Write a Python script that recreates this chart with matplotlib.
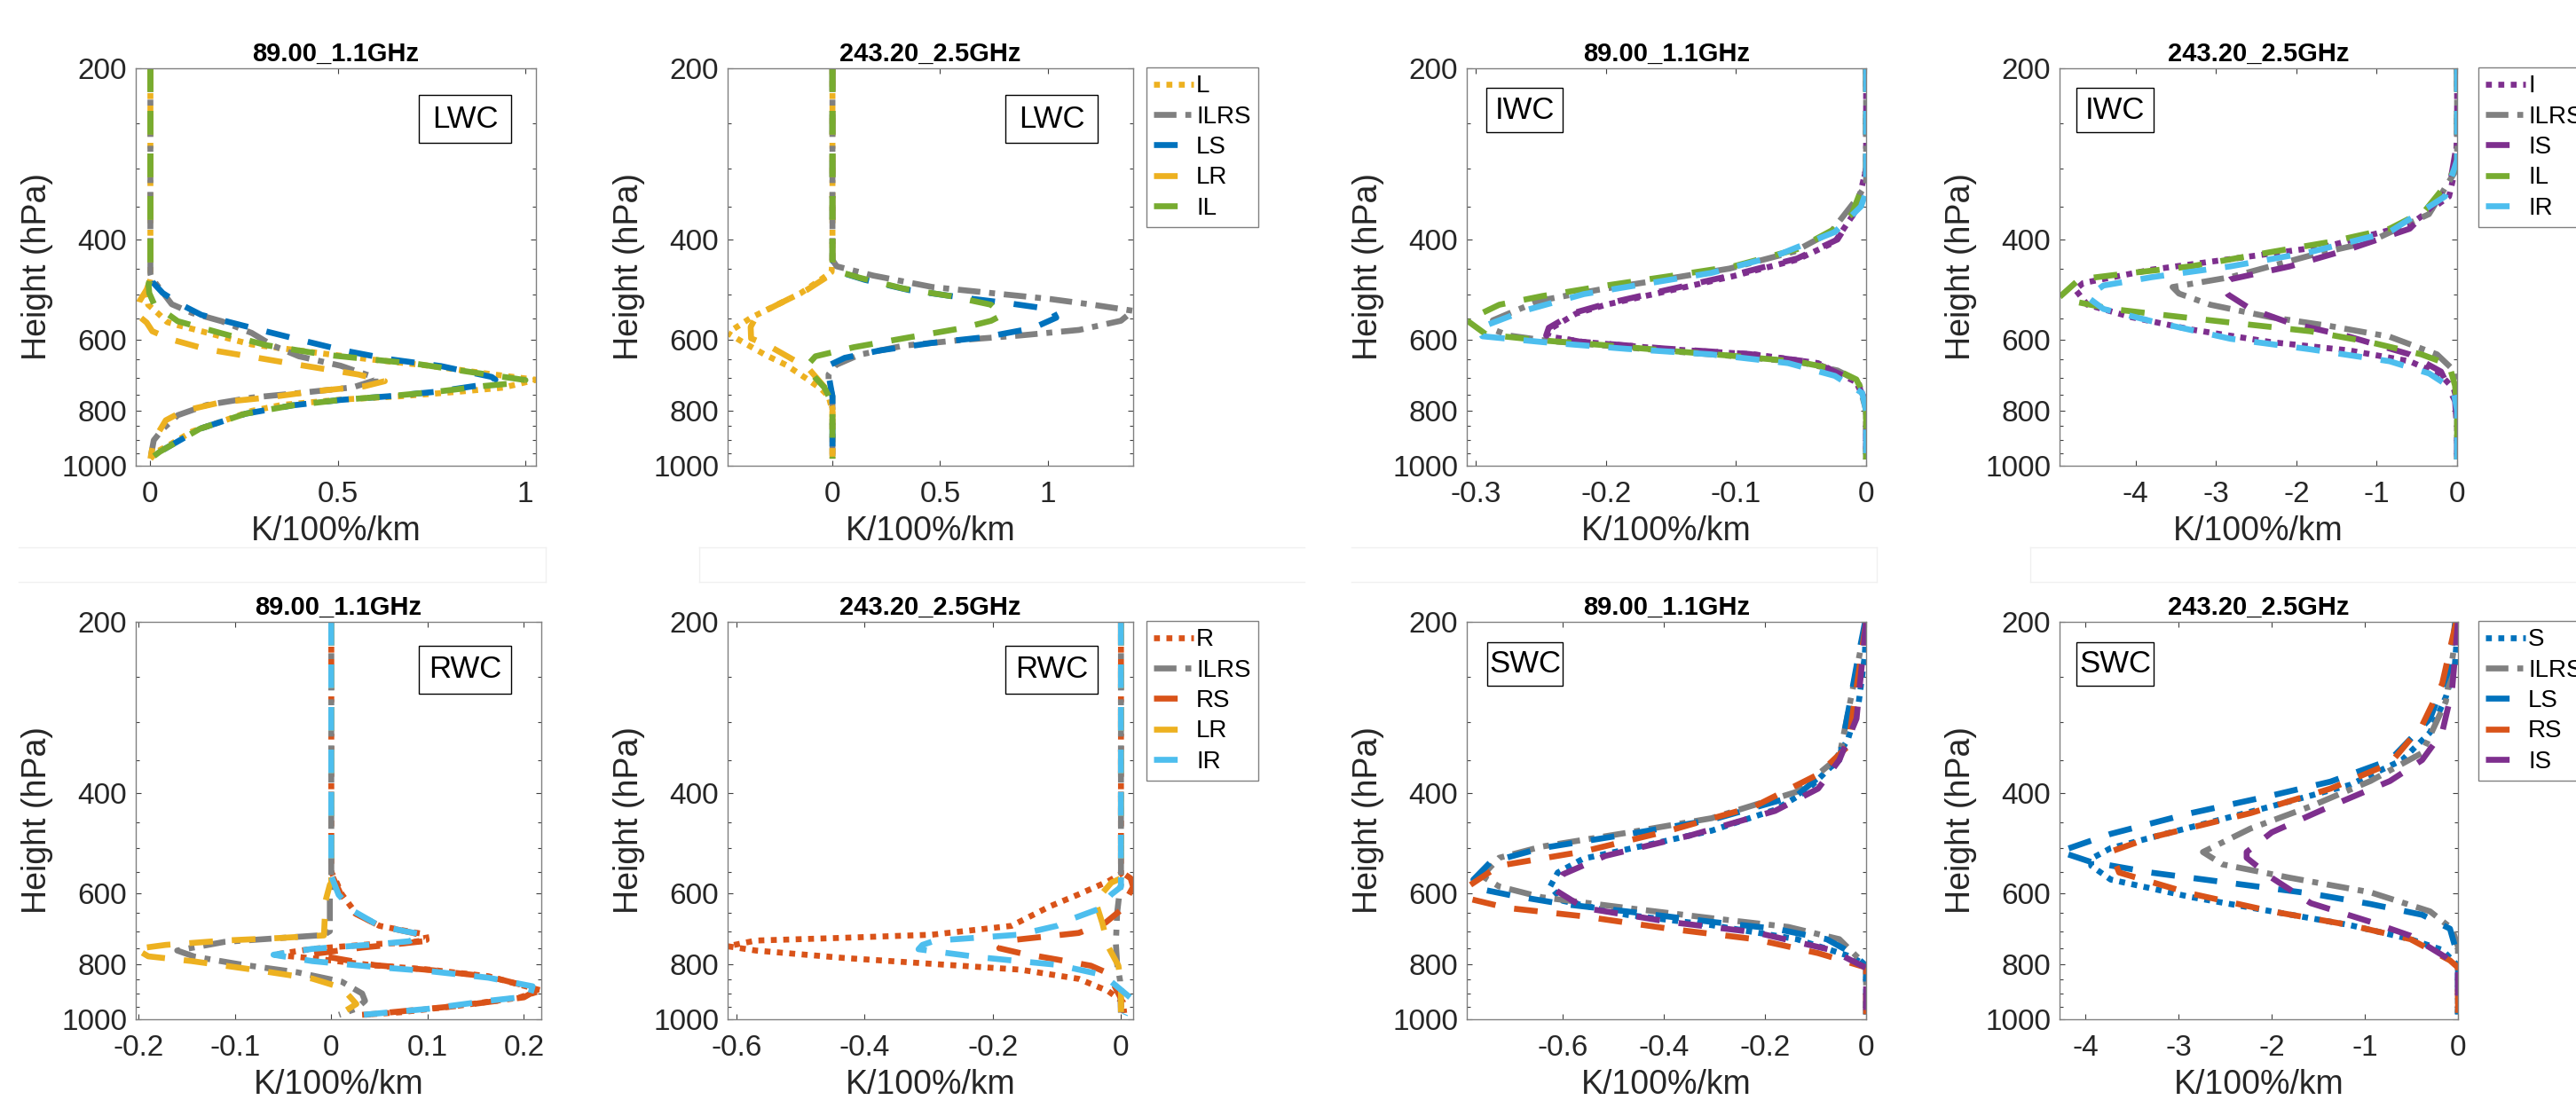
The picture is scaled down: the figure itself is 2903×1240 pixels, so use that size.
import matplotlib
matplotlib.use("Agg")
import matplotlib.pyplot as plt
from matplotlib.patches import Rectangle
from matplotlib.lines import Line2D
from matplotlib.ticker import FixedLocator, NullFormatter

plt.rcParams['font.family'] = ['Liberation Sans', 'DejaVu Sans']

# Jacobian profiles, each point is (pressure [hPa], sensitivity [K/100%/km])

# LWC, 89.00 GHz
lwc89_L = [(200, 0), (470, 0), (500, -0.01), (521, -0.006), (540, 0.021), (559, 0.045), (566, 0.073),
           (580, 0.136), (597, 0.207), (612, 0.27), (631, 0.428), (650, 0.586), (667, 0.743), (689, 0.9),
           (706, 1.028), (729, 0.94), (741, 0.822), (755, 0.665), (765, 0.507), (782, 0.349), (801, 0.27),
           (836, 0.19), (870, 0.112), (914, 0.057), (945, 0.017), (972, 0)]
lwc89_ILRS = [(200, 0), (460, 0), (467, 0.003), (520, 0.057), (539, 0.112), (557, 0.19), (584, 0.27),
              (614, 0.325), (642, 0.396), (667, 0.507), (700, 0.6), (707, 0.6), (728, 0.54), (745, 0.396),
              (759, 0.27), (782, 0.15), (815, 0.073), (862, 0.033), (902, 0.009), (972, 0)]
lwc89_LS = [(200, 0), (460, 0), (474, 0.004), (497, 0.033), (520, 0.08), (543, 0.136), (572, 0.27),
            (600, 0.396), (627, 0.515), (650, 0.64), (668, 0.775), (698, 0.91), (706, 0.92), (720, 0.89),
            (741, 0.763), (755, 0.633), (766, 0.507), (783, 0.38), (810, 0.254), (861, 0.132),
            (945, 0.025), (972, 0)]
lwc89_LR = [(200, 0), (470, 0), (490, -0.01), (515, -0.03), (540, -0.039), (560, -0.01), (580, 0.005),
            (600, 0.057), (624, 0.15), (646, 0.286), (667, 0.41), (691, 0.554), (710, 0.625), (725, 0.57),
            (741, 0.428), (759, 0.31), (773, 0.19), (801, 0.088), (832, 0.041), (902, 0.009), (972, 0)]
lwc89_IL = [(200, 0), (465, 0), (480, -0.005), (497, -0.003), (520, 0.01), (557, 0.073), (585, 0.19),
            (614, 0.31), (638, 0.467), (650, 0.586), (662, 0.71), (683, 0.846), (707, 1.0), (718, 0.95),
            (724, 0.89), (741, 0.763), (755, 0.633), (766, 0.507), (783, 0.38), (810, 0.254), (861, 0.132),
            (945, 0.025), (972, 0)]

# LWC, 243.20 GHz
lwc243_L = [(200, 0), (431, 0), (456, -0.004), (470, -0.052), (497, -0.147), (524, -0.27), (549, -0.378),
            (584, -0.487), (605, -0.42), (639, -0.31), (665, -0.215), (703, -0.12), (733, -0.052),
            (755, -0.018), (801, 0), (972, 0)]
lwc243_ILRS = [(200, 0), (435, 0), (446, 0.02), (463, 0.19), (485, 0.465), (497, 0.74), (509, 1.01),
               (521, 1.21), (534, 1.397), (556, 1.34), (577, 1.146), (590, 0.873), (601, 0.6), (615, 0.33),
               (638, 0.125), (665, 0.016), (691, -0.018), (710, -0.018), (755, 0), (972, 0)]
lwc243_LS = [(200, 0), (435, 0), (456, 0.03), (471, 0.15), (491, 0.356), (506, 0.6), (518, 0.82),
             (531, 1.02), (549, 1.04), (573, 0.93), (594, 0.71), (608, 0.465), (627, 0.22), (646, 0.057),
             (668, -0.024), (691, -0.018), (720, -0.01), (755, 0), (972, 0)]
lwc243_LR = [(200, 0), (440, 0), (459, 0), (491, -0.12), (521, -0.256), (543, -0.35), (570, -0.38),
             (597, -0.378), (615, -0.297), (658, -0.16), (678, -0.106), (737, -0.024), (792, 0), (972, 0)]
lwc243_IL = [(200, 0), (440, 0), (454, 0.016), (467, 0.125), (488, 0.33), (503, 0.547), (521, 0.737),
             (543, 0.79), (556, 0.737), (573, 0.6), (597, 0.33), (619, 0.098), (642, -0.079), (668, -0.12),
             (700, -0.08), (728, -0.038), (763, -0.011), (801, 0), (972, 0)]

# IWC, 89.00 GHz
iwc89_I = [(200, 0), (300, 0), (355, -0.0075), (404, -0.024), (434, -0.053), (464, -0.102), (492, -0.151),
           (521, -0.2), (540, -0.223), (575, -0.243), (592, -0.245), (606, -0.217), (624, -0.151),
           (637, -0.086), (660, -0.037), (713, -0.0075), (775, 0), (975, 0)]
iwc89_ILRS = [(200, 0), (320, 0), (340, -0.0075), (388, -0.027), (420, -0.055), (450, -0.105),
              (470, -0.155), (490, -0.205), (512, -0.25), (533, -0.269), (555, -0.287), (578, -0.285),
              (590, -0.275), (603, -0.245), (615, -0.2), (629, -0.15), (642, -0.1), (658, -0.05),
              (680, -0.022), (710, -0.006), (800, 0), (975, 0)]
iwc89_IS = [(200, 0), (300, 0), (350, -0.006), (400, -0.022), (432, -0.053), (463, -0.104), (490, -0.152),
            (519, -0.2), (538, -0.224), (572, -0.244), (590, -0.246), (605, -0.22), (622, -0.155),
            (636, -0.09), (658, -0.04), (710, -0.008), (770, 0), (975, 0)]
iwc89_IL = [(200, 0), (310, 0), (322, -0.0026), (361, -0.011), (383, -0.024), (416, -0.053), (446, -0.102),
            (464, -0.151), (482, -0.2), (503, -0.249), (521, -0.282), (555, -0.307), (588, -0.292),
            (602, -0.249), (614, -0.2), (628, -0.151), (641, -0.102), (656, -0.053), (676, -0.024),
            (705, -0.0075), (755, -0.001), (809, 0), (975, 0)]
iwc89_IR = [(200, 0), (330, 0), (350, -0.004), (388, -0.024), (428, -0.07), (458, -0.119), (478, -0.168),
            (499, -0.217), (533, -0.262), (573, -0.298), (592, -0.295), (606, -0.249), (623, -0.184),
            (637, -0.119), (660, -0.06), (695, -0.024), (745, -0.003), (800, 0), (975, 0)]

# IWC, 243.20 GHz
iwc243_I = [(200, 0), (260, 0), (300, -0.02), (336, -0.1), (377, -0.59), (410, -1.58), (433, -2.82),
            (452, -3.8), (477, -4.65), (490, -4.75), (521, -4.6), (548, -4.05), (576, -3.31), (606, -2.32),
            (627, -1.34), (655, -0.59), (693, -0.2), (733, -0.04), (770, 0), (975, 0)]
iwc243_ILRS = [(200, 0), (280, 0), (304, -0.025), (361, -0.35), (404, -1.09), (427, -1.83), (466, -2.82),
               (485, -3.54), (498, -3.46), (521, -3.07), (548, -2.32), (568, -1.58), (593, -0.84),
               (637, -0.25), (683, -0.025), (743, 0), (975, 0)]
iwc243_IS = [(200, 0), (270, 0), (326, -0.1), (383, -0.59), (416, -1.34), (446, -2.08), (470, -2.82),
             (482, -2.92), (500, -2.85), (530, -2.57), (561, -2.08), (593, -1.34), (637, -0.59),
             (683, -0.2), (770, -0.025), (870, 0), (975, 0)]
iwc243_IL = [(200, 0), (290, 0), (300, -0.025), (322, -0.15), (356, -0.4), (383, -0.84), (404, -1.58),
             (421, -2.32), (446, -3.31), (458, -4.05), (470, -4.7), (505, -4.946), (513, -4.8), (530, -4.3),
             (545, -3.56), (560, -2.82), (580, -1.83), (606, -1.09), (637, -0.445), (664, -0.1),
             (723, -0.025), (800, 0), (975, 0)]
iwc243_IR = [(200, 0), (290, 0), (336, -0.15), (388, -0.84), (421, -1.83), (446, -2.82), (466, -3.8),
             (482, -4.4), (505, -4.6), (530, -4.4), (557, -3.8), (598, -2.82), (624, -1.83), (655, -0.84),
             (688, -0.35), (733, -0.05), (800, 0), (975, 0)]

# RWC, 89.00 GHz
rwc89_R = [(200, 0), (551, 0), (570, 0.0046), (603, 0.011), (652, 0.026), (685, 0.05), (701, 0.081),
           (709, 0.098), (725, 0.099), (733, 0.081), (738, 0.041), (752, -0.02), (770, -0.06), (781, -0.02),
           (803, 0.041), (818, 0.102), (840, 0.163), (890, 0.218), (917, 0.194), (946, 0.133),
           (972, 0.072), (982, 0.032)]
rwc89_ILRS = [(200, 0), (580, 0), (613, -0.0015), (700, -0.0015), (711, -0.008), (719, -0.05),
              (731, -0.111), (757, -0.16), (776, -0.142), (800, -0.096), (827, -0.035), (859, 0.011),
              (901, 0.032), (928, 0.035), (958, 0.026), (982, 0.008)]
rwc89_RS = [(200, 0), (555, 0), (603, 0.01), (652, 0.025), (685, 0.05), (705, 0.085), (718, 0.1),
            (728, 0.099), (740, 0.06), (748, 0.032), (768, -0.02), (783, 0.008), (803, 0.045), (820, 0.105),
            (842, 0.165), (885, 0.215), (915, 0.2), (946, 0.135), (982, 0.035)]
rwc89_LR = [(200, 0), (575, 0), (580, -0.0015), (619, -0.006), (712, -0.0076), (719, -0.05),
            (727, -0.111), (740, -0.172), (752, -0.203), (775, -0.19), (790, -0.145), (818, -0.081),
            (848, -0.02), (880, 0.011), (940, 0.026), (982, 0.008)]
rwc89_IR = [(200, 0), (560, 0), (604, 0.0076), (645, 0.023), (685, 0.05), (701, 0.078), (709, 0.095),
            (729, 0.081), (738, 0.047), (752, -0.02), (770, -0.06), (790, -0.02), (808, 0.041),
            (823, 0.102), (845, 0.163), (875, 0.209), (911, 0.206), (928, 0.163), (958, 0.102), (983, 0.03)]

# RWC, 243.20 GHz
rwc243_R = [(200, 0), (555, 0), (572, -0.02), (603, -0.066), (633, -0.111), (685, -0.171), (710, -0.295),
            (719, -0.433), (727, -0.57), (744, -0.614), (757, -0.57), (780, -0.433), (799, -0.295),
            (818, -0.157), (849, -0.066), (892, -0.02), (932, 0.003), (975, 0.005)]
rwc243_ILRS = [(200, 0), (580, 0), (587, -0.0014), (650, -0.006), (735, -0.008), (800, -0.006),
               (855, -0.0014), (983, 0)]
rwc243_RS = [(200, 0), (550, 0), (565, 0.015), (585, 0.019), (645, -0.002), (676, -0.024), (705, -0.066),
             (727, -0.176), (750, -0.19), (765, -0.157), (785, -0.1), (805, -0.047), (830, -0.02),
             (920, 0), (975, 0)]
rwc243_LR = [(200, 0), (565, 0), (575, -0.015), (620, -0.04), (678, -0.029), (745, -0.02), (805, -0.004),
             (870, 0), (983, 0)]
rwc243_IR = [(200, 0), (585, 0), (603, -0.015), (640, -0.035), (665, -0.075), (685, -0.1), (710, -0.16),
             (722, -0.25), (727, -0.29), (740, -0.31), (753, -0.316), (765, -0.27), (778, -0.22),
             (790, -0.16), (802, -0.1), (830, -0.04), (850, -0.02), (921, 0.017), (983, 0.006)]

# SWC, 89.00 GHz
swc89_S = [(200, 0), (229, -0.0025), (279, -0.015), (322, -0.036), (360, -0.07), (398, -0.12), (428, -0.18),
           (466, -0.306), (493, -0.43), (522, -0.56), (552, -0.61), (584, -0.625), (619, -0.6),
           (655, -0.474), (683, -0.306), (723, -0.137), (777, -0.028), (805, 0), (980, 0)]
swc89_ILRS = [(200, 0), (345, -0.053), (398, -0.137), (443, -0.306), (470, -0.474), (497, -0.642),
              (520, -0.726), (560, -0.76), (584, -0.726), (610, -0.642), (637, -0.474), (664, -0.306),
              (688, -0.154), (723, -0.053), (805, 0), (980, 0)]
swc89_LS = [(200, -0.002), (229, -0.015), (350, -0.053), (404, -0.137), (446, -0.306), (473, -0.474),
            (500, -0.642), (529, -0.743), (568, -0.777), (589, -0.768), (606, -0.7), (627, -0.6),
            (646, -0.474), (674, -0.306), (693, -0.18), (723, -0.078), (765, -0.028), (805, 0), (980, 0)]
swc89_RS = [(200, 0), (331, -0.036), (371, -0.095), (422, -0.22), (466, -0.39), (507, -0.56), (537, -0.726),
            (582, -0.785), (600, -0.79), (614, -0.785), (637, -0.71), (659, -0.56), (693, -0.39),
            (723, -0.22), (765, -0.095), (811, 0), (980, 0)]
swc89_IS = [(200, 0), (296, -0.019), (350, -0.053), (393, -0.095), (430, -0.18), (475, -0.348),
            (516, -0.516), (556, -0.6), (591, -0.617), (637, -0.558), (674, -0.39), (703, -0.22),
            (755, -0.07), (812, 0), (980, 0)]

# SWC, 243.20 GHz
swc243_S = [(200, 0), (239, -0.034), (271, -0.13), (313, -0.3), (350, -0.6), (387, -1.16), (422, -2.0),
            (459, -2.86), (500, -3.73), (522, -3.94), (537, -3.94), (568, -3.73), (610, -2.86), (646, -2.0),
            (683, -1.16), (723, -0.51), (755, -0.17), (805, 0), (980, 0)]
swc243_ILRS = [(200, 0), (276, -0.13), (340, -0.385), (381, -0.94), (422, -1.58), (462, -2.23),
               (508, -2.74), (534, -2.53), (564, -1.8), (598, -0.94), (646, -0.3), (693, -0.064),
               (745, 0), (980, 0)]
swc243_LS = [(200, -0.03), (240, -0.086), (296, -0.3), (350, -0.73), (382, -1.37), (404, -2.0),
             (434, -2.87), (472, -3.73), (507, -4.28), (529, -3.94), (552, -3.3), (576, -2.44),
             (601, -1.58), (627, -0.94), (655, -0.385), (693, -0.086), (777, 0), (980, 0)]
swc243_RS = [(200, -0.02), (257, -0.17), (304, -0.385), (355, -0.73), (393, -1.37), (434, -2.23),
             (479, -3.3), (507, -3.73), (552, -3.64), (601, -2.87), (646, -2.0), (683, -1.16),
             (723, -0.51), (788, -0.086), (811, 0), (980, 0)]
swc243_IS = [(200, 0), (264, -0.064), (313, -0.17), (350, -0.385), (381, -0.73), (422, -1.37),
             (469, -2.0), (508, -2.27), (520, -2.27), (564, -2.0), (625, -1.58), (674, -0.94),
             (713, -0.51), (778, -0.13), (812, 0), (980, 0)]

# MATLAB default colour order plus grey
BLUE, ORANGE, YELLOW = '#0072BD', '#D95319', '#EDB120'
PURPLE, GREEN, CYAN, GRAY = '#7E2F8E', '#77AC30', '#4DBEEE', '#808080'
# dash patterns in units of line width
DOT = (0, (1.0, 1.1))
DASHDOT = (0, (3.8, 1.5, 1.0, 1.5))
DASH = (0, (4.0, 3.2))

LWC_LINES = lambda d: [('L', d['L'], YELLOW, DOT), ('ILRS', d['ILRS'], GRAY, DASHDOT),
                       ('LS', d['LS'], BLUE, DASH), ('LR', d['LR'], YELLOW, DASH), ('IL', d['IL'], GREEN, DASH)]
IWC_LINES = lambda d: [('I', d['I'], PURPLE, DOT), ('ILRS', d['ILRS'], GRAY, DASHDOT),
                       ('IS', d['IS'], PURPLE, DASH), ('IL', d['IL'], GREEN, DASH), ('IR', d['IR'], CYAN, DASH)]
RWC_LINES = lambda d: [('R', d['R'], ORANGE, DOT), ('ILRS', d['ILRS'], GRAY, DASHDOT),
                       ('RS', d['RS'], ORANGE, DASH), ('LR', d['LR'], YELLOW, DASH), ('IR', d['IR'], CYAN, DASH)]
SWC_LINES = lambda d: [('S', d['S'], BLUE, DOT), ('ILRS', d['ILRS'], GRAY, DASHDOT),
                       ('LS', d['LS'], BLUE, DASH), ('RS', d['RS'], ORANGE, DASH), ('IS', d['IS'], PURPLE, DASH)]

T89, T243 = '89.00_1.1GHz', '243.20_2.5GHz'

# axes (left, right, top, bottom) and tag box (left, right, top, bottom) in pixels
panels = [
    dict(ax=(153, 604, 77, 525), title=T89, tag='LWC', box=(472, 576, 107, 161), xt=[0, 0.5, 1],
         lines=LWC_LINES(dict(L=lwc89_L, ILRS=lwc89_ILRS, LS=lwc89_LS, LR=lwc89_LR, IL=lwc89_IL)), leg=None),
    dict(ax=(820, 1277, 77, 525), title=T243, tag='LWC', box=(1133, 1237, 107, 161), xt=[0, 0.5, 1],
         lines=LWC_LINES(dict(L=lwc243_L, ILRS=lwc243_ILRS, LS=lwc243_LS, LR=lwc243_LR, IL=lwc243_IL)),
         leg=(1292, 76)),
    dict(ax=(1653, 2103, 77, 525), title=T89, tag='IWC', box=(1675, 1761, 99, 149), xt=[-0.3, -0.2, -0.1, 0],
         lines=IWC_LINES(dict(I=iwc89_I, ILRS=iwc89_ILRS, IS=iwc89_IS, IL=iwc89_IL, IR=iwc89_IR)), leg=None),
    dict(ax=(2321, 2769, 77, 525), title=T243, tag='IWC', box=(2340, 2427, 99, 149), xt=[-4, -3, -2, -1, 0],
         lines=IWC_LINES(dict(I=iwc243_I, ILRS=iwc243_ILRS, IS=iwc243_IS, IL=iwc243_IL, IR=iwc243_IR)),
         leg=(2793, 76)),
    dict(ax=(153, 610, 701, 1149), title=T89, tag='RWC', box=(472, 576, 728, 782),
         xt=[-0.2, -0.1, 0, 0.1, 0.2],
         lines=RWC_LINES(dict(R=rwc89_R, ILRS=rwc89_ILRS, RS=rwc89_RS, LR=rwc89_LR, IR=rwc89_IR)), leg=None),
    dict(ax=(820, 1277, 701, 1149), title=T243, tag='RWC', box=(1133, 1237, 728, 782),
         xt=[-0.6, -0.4, -0.2, 0],
         lines=RWC_LINES(dict(R=rwc243_R, ILRS=rwc243_ILRS, RS=rwc243_RS, LR=rwc243_LR, IR=rwc243_IR)),
         leg=(1292, 700)),
    dict(ax=(1653, 2103, 701, 1149), title=T89, tag='SWC', box=(1676, 1761, 724, 773),
         xt=[-0.6, -0.4, -0.2, 0],
         lines=SWC_LINES(dict(S=swc89_S, ILRS=swc89_ILRS, LS=swc89_LS, RS=swc89_RS, IS=swc89_IS)), leg=None),
    dict(ax=(2321, 2770, 701, 1149), title=T243, tag='SWC', box=(2340, 2427, 724, 773),
         xt=[-4, -3, -2, -1, 0],
         lines=SWC_LINES(dict(S=swc243_S, ILRS=swc243_ILRS, LS=swc243_LS, RS=swc243_RS, IS=swc243_IS)),
         leg=(2793, 700)),
]

W, H = 2903, 1240
fig = plt.figure(figsize=(W / 100, H / 100), dpi=100)

# faint frame edges left over from the stitched figure windows
for y in (617, 656):
    for x0, x1 in [(21, 615), (788, 1470), (1523, 2115), (2288, 2903)]:
        fig.add_artist(Line2D([x0 / W, x1 / W], [1 - y / H, 1 - y / H], color='#f0f0f0', lw=1))
for x in (615, 788, 2115, 2288):
    fig.add_artist(Line2D([x / W, x / W], [1 - 617 / H, 1 - 656 / H], color='#f0f0f0', lw=1))

LW = 4.8
for pan in panels:
    l, r, t, b = pan['ax']
    ax = fig.add_axes([l / W, 1 - b / H, (r - l) / W, (b - t) / H])
    xmin, xmax = 0, 0
    for label, prof, col, ls in pan['lines']:
        p = [q[0] for q in prof]
        x = [q[1] for q in prof]
        ax.plot(x, p, color=col, lw=LW, linestyle=ls, dash_capstyle='butt', label=label)
        xmin, xmax = min(xmin, min(x)), max(xmax, max(x))

    ax.set_yscale('log')
    ax.set_ylim(1000, 200)
    ax.set_xlim(xmin, xmax)
    ax.yaxis.set_major_locator(FixedLocator([200, 400, 600, 800, 1000]))
    ax.set_yticklabels(['200', '400', '600', '800', '1000'])
    ax.yaxis.set_minor_locator(FixedLocator([v for v in range(250, 1000, 50) if v % 200]))
    ax.yaxis.set_minor_formatter(NullFormatter())
    ax.set_xticks(pan['xt'])
    ax.set_xticklabels(['%g' % v for v in pan['xt']])

    ax.tick_params(which='both', direction='in', top=True, right=True, color='#404040',
                   labelcolor='#262626', labelsize=24, width=0.8)
    ax.tick_params(which='major', length=4)
    ax.tick_params(which='minor', length=3)
    ax.tick_params(axis='x', pad=12)
    ax.tick_params(axis='y', pad=7)
    for s in ax.spines.values():
        s.set_color('#808080')
        s.set_linewidth(1.0)

    ax.set_ylabel('Height (hPa)', fontsize=27, color='#262626')
    ax.yaxis.set_label_coords(-93 / (r - l), 0.5)
    ax.set_xlabel('K/100%/km', fontsize=27, color='#262626', va='top')
    ax.xaxis.set_label_coords(0.5, -56 / (b - t))
    ax.set_title(pan['title'], fontsize=21, fontweight='bold', pad=6)

    bl, br, bt, bb = pan['box']
    fig.add_artist(Rectangle((bl / W, 1 - bb / H), (br - bl) / W, (bb - bt) / H, transform=fig.transFigure,
                             facecolor='white', edgecolor='black', lw=1.0, zorder=5))
    fig.text((bl + br) / 2 / W, 1 - (bt + bb) / 2 / H, pan['tag'], fontsize=25, ha='center', va='center',
             zorder=6)

    if pan['leg'] is not None:
        lx, ly = pan['leg']
        leg = ax.legend(loc='upper left', bbox_to_anchor=(lx / W, 1 - ly / H), bbox_transform=fig.transFigure,
                        borderaxespad=0, fontsize=20, handlelength=1.6, handletextpad=0.12, borderpad=0.3,
                        labelspacing=0.3, fancybox=False, framealpha=1)
        leg.get_frame().set_edgecolor('#808080')
        leg.get_frame().set_linewidth(1.0)

fig.savefig('out.png', dpi=100)
